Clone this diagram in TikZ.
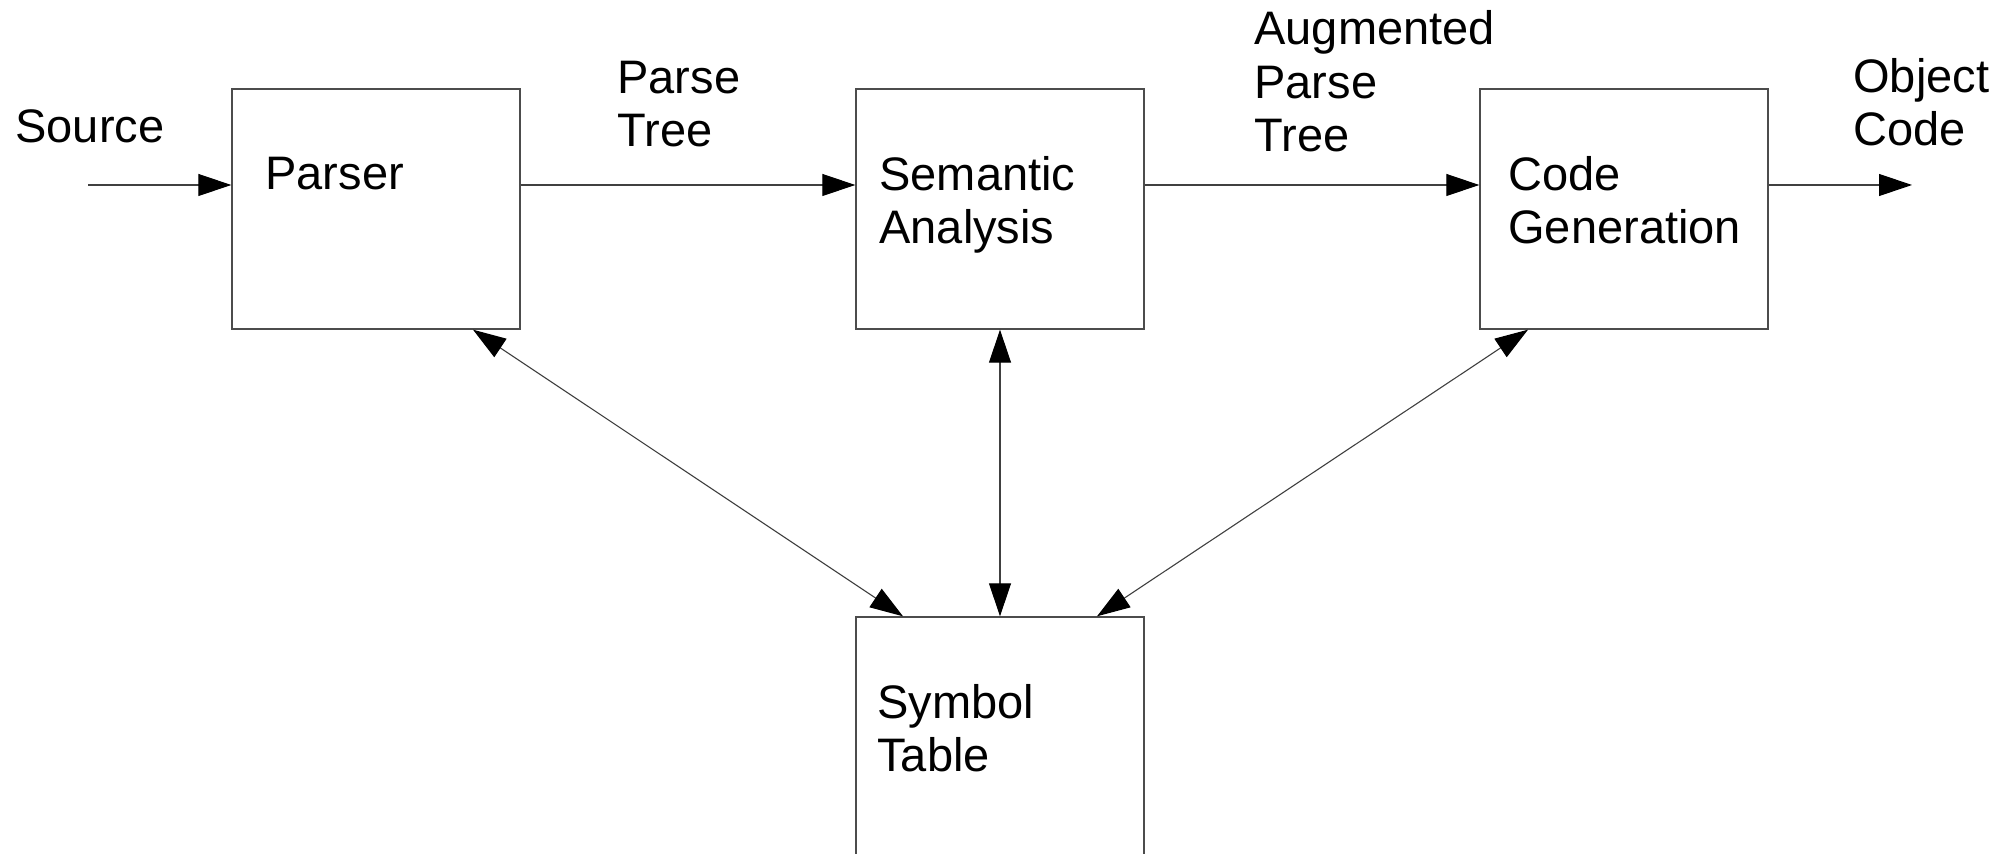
\documentclass[tikz,border=0pt]{standalone}
\usepackage{fontspec}
\setmainfont{Liberation Sans}
\usetikzlibrary{arrows.meta}
\tikzset{
  box/.style={draw=black!70, line width=0.7pt, minimum width=144pt, minimum height=120pt, inner sep=0pt},
  lbl/.style={anchor=base west, inner sep=0pt, align=left, font=\fontsize{23.5pt}{26.75pt}\selectfont},
  arr/.style={draw=black!75, line width=0.55pt, -{Triangle[length=16.5pt,width=11pt,color=black]}},
  biarr/.style={draw=black!75, line width=0.55pt, {Triangle[length=16.5pt,width=11pt,color=black]}-{Triangle[length=16.5pt,width=11pt,color=black]}}
}
\begin{document}
\begin{tikzpicture}[x=0.5pt,y=-0.5pt]
\useasboundingbox (0,0) rectangle (2014,854);
% boxes
\node[box] (parser) at (376,209) {};
\node[box] (sem) at (1000,209) {};
\node[box] (code) at (1624,209) {};
\node[box, minimum height=124pt] (sym) at (1000,741) {};
% texts (anchor = baseline of last line)
\node[lbl] (tsrc) at (15,143) {Source};
\node[lbl] (tparser) at (265,190) {Parser};
\node[lbl] (tpt) at (617,147) {Parse\\Tree};
\node[lbl] (tsem) at (879,244) {Semantic\\Analysis};
\node[lbl] (tapt) at (1254,152) {Augmented\\Parse\\Tree};
\node[lbl] (tcode) at (1508,244) {Code\\Generation};
\node[lbl] (tobj) at (1853,146) {Object\\Code};
\node[lbl] (tsym) at (877,772) {Symbol\\Table};
% connectors
\coordinate (src) at (88,185);
\coordinate (out) at (1912,185);
\draw[arr] (src) -- ([yshift=12pt]parser.west);
\draw[arr] ([yshift=12pt]parser.east) -- ([yshift=12pt]sem.west);
\draw[arr] ([yshift=12pt]sem.east) -- ([yshift=12pt]code.west);
\draw[arr] ([yshift=12pt]code.east) -- (out);
\draw[biarr] ([xshift=48.5pt]parser.south) -- ([xshift=-48.5pt]sym.north);
\draw[biarr] (sem.south) -- (sym.north);
\draw[biarr] ([xshift=-48pt]code.south) -- ([xshift=48.5pt]sym.north);
\end{tikzpicture}
\end{document}
